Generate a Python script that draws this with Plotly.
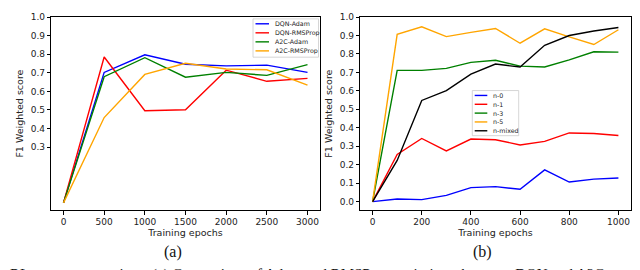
import plotly.graph_objects as go

# ---- data (a) ----
epochs_a = [0, 500, 1000, 1500, 2000, 2500, 3000]
dqn_adam = [0.0, 0.702, 0.797, 0.746, 0.737, 0.741, 0.702]
dqn_rms = [0.0, 0.785, 0.496, 0.501, 0.714, 0.654, 0.670]
a2c_adam = [0.0, 0.679, 0.781, 0.676, 0.702, 0.686, 0.744]
a2c_rms = [0.0, 0.459, 0.691, 0.751, 0.720, 0.716, 0.633]
names_a = ["DQN-Adam", "DQN-RMSProp", "A2C-Adam", "A2C-RMSProp"]
colors_a = ["#0000ff", "#ff0000", "#008000", "#ffa500"]
yticks_a = [0.3, 0.4, 0.5, 0.6, 0.7, 0.8, 0.9, 1.0]
xticks_a = [0, 500, 1000, 1500, 2000, 2500, 3000]

# ---- data (b) ----
epochs_b = [0, 100, 200, 300, 400, 500, 600, 700, 800, 900, 1000]
n0 = [0.0, 0.014, 0.011, 0.034, 0.076, 0.081, 0.067, 0.172, 0.106, 0.122, 0.128]
n1 = [0.0, 0.255, 0.342, 0.275, 0.339, 0.335, 0.307, 0.326, 0.372, 0.369, 0.358]
n3 = [0.0, 0.711, 0.711, 0.722, 0.754, 0.766, 0.734, 0.729, 0.768, 0.812, 0.810]
n5 = [0.0, 0.906, 0.947, 0.894, 0.917, 0.938, 0.858, 0.936, 0.892, 0.851, 0.931]
nmix = [0.0, 0.223, 0.548, 0.601, 0.691, 0.745, 0.729, 0.847, 0.900, 0.924, 0.943]
names_b = ["n-0", "n-1", "n-3", "n-5", "n-mixed"]
colors_b = ["#0000ff", "#ff0000", "#008000", "#ffa500", "#000000"]
yticks_b = [0.0, 0.1, 0.2, 0.3, 0.4, 0.5, 0.6, 0.7, 0.8, 0.9, 1.0]
xticks_b = [0, 200, 400, 600, 800, 1000]

caption = "RL agents comparison. (a) Comparison of Adam and RMSProp optimizers between DQN and A2C"

W, H = 640, 270
def px(x):
    return x / W
def py(y):
    return (H - y) / H

fig = go.Figure()
for name, ys, c in zip(names_a, [dqn_adam, dqn_rms, a2c_adam, a2c_rms], colors_a):
    fig.add_trace(go.Scatter(x=epochs_a, y=ys, mode="lines", name=name,
                             line=dict(color=c, width=1.4), xaxis="x", yaxis="y",
                             showlegend=False))
for name, ys, c in zip(names_b, [n0, n1, n3, n5, nmix], colors_b):
    fig.add_trace(go.Scatter(x=epochs_b, y=ys, mode="lines", name=name,
                             line=dict(color=c, width=1.4), xaxis="x2", yaxis="y2",
                             showlegend=False))

tickfont = dict(family="DejaVu Sans", size=9, color="#222222")
titlefont = dict(family="DejaVu Sans", size=9.5, color="#222222")
common = dict(showgrid=False, zeroline=False, showline=True, linecolor="#000000",
              linewidth=0.8, mirror=True, ticks="outside", ticklen=3.5, tickwidth=0.8,
              tickcolor="#000000", tickfont=tickfont, ticklabeloverflow="allow")

fig.update_layout(
    width=W, height=H, margin=dict(l=0, r=0, t=0, b=0),
    paper_bgcolor="white", plot_bgcolor="white",
    xaxis=dict(domain=[px(43.3), px(311.7)], range=[-150, 3150], tickvals=xticks_a,
               title=dict(text="Training epochs", font=titlefont, standoff=1), anchor="y", **common),
    yaxis=dict(domain=[py(201), py(4)], range=[-0.04, 1.0005], tickvals=yticks_a,
               tickformat=".1f",
               title=dict(text="F1 Weighted score", font=titlefont, standoff=5), anchor="x", **common),
    xaxis2=dict(domain=[px(352.3), px(622.7)], range=[-50, 1050], tickvals=xticks_b,
                title=dict(text="Training epochs", font=titlefont, standoff=1), anchor="y2", **common),
    yaxis2=dict(domain=[py(201), py(4)], range=[-0.047, 1.0005], tickvals=yticks_b,
                tickformat=".1f",
                title=dict(text="F1 Weighted score", font=titlefont, standoff=5), anchor="x2", **common),
)

shapes = []
annotations = []

def legend(box, first_y, step, line_x0, line_x1, text_x, names, colors):
    x0, y0, x1, y1 = box
    shapes.append(dict(type="rect", xref="paper", yref="paper",
                       x0=px(x0), x1=px(x1), y0=py(y1), y1=py(y0),
                       line=dict(color="#cccccc", width=0.8), fillcolor="rgba(255,255,255,0.8)",
                       layer="above"))
    for i, (n, c) in enumerate(zip(names, colors)):
        yy = first_y + i * step
        shapes.append(dict(type="line", xref="paper", yref="paper",
                           x0=px(line_x0), x1=px(line_x1), y0=py(yy), y1=py(yy),
                           line=dict(color=c, width=1.4), layer="above"))
        annotations.append(dict(text=n, xref="paper", yref="paper", x=px(text_x), y=py(yy),
                                xanchor="left", yanchor="middle", showarrow=False,
                                font=dict(family="DejaVu Sans", size=6.3, color="#222222")))

legend((245, 6, 310.5, 45), 11, 9.2, 247.5, 261, 265, names_a, colors_a)
legend((464.3, 79, 510.7, 125), 84, 9, 466.7, 479.3, 483, names_b, colors_b)

annotations.append(dict(text="(a)", xref="paper", yref="paper", x=px(165), y=py(244),
                        xanchor="center", yanchor="middle", showarrow=False,
                        font=dict(family="Liberation Serif", size=16, color="#111111")))
annotations.append(dict(text="(b)", xref="paper", yref="paper", x=px(474.5), y=py(244),
                        xanchor="center", yanchor="middle", showarrow=False,
                        font=dict(family="Liberation Serif", size=16, color="#111111")))
annotations.append(dict(text=caption, xref="paper", yref="paper", x=0, y=py(256),
                        xanchor="left", yanchor="top", showarrow=False,
                        font=dict(family="Liberation Serif", size=15, color="#111111")))

fig.update_layout(shapes=shapes, annotations=annotations)
fig.write_html("out.html")
